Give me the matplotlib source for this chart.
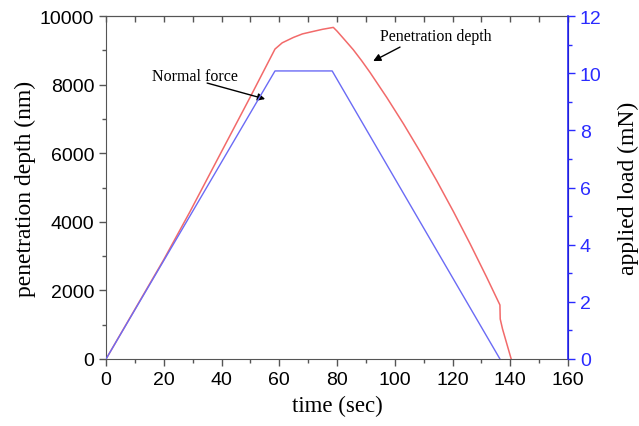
import matplotlib
matplotlib.use('Agg')
import matplotlib.pyplot as plt
from matplotlib.ticker import MultipleLocator, NullFormatter

# penetration depth (nm) vs time (sec)
t_depth = [0, 20, 29, 40, 50, 58.5, 61, 64.9, 68, 71.8, 75, 78.7,
           80, 82.5, 85.6, 88.5, 91.4, 97.2, 103, 108.7, 114.5, 120.3, 126.1, 131.8,
           136.4, 136.5, 137.3, 140.3]
depth = [0, 2900, 4286, 6050, 7650, 9038, 9220, 9378, 9480, 9554, 9615, 9670,
         9560, 9320, 9020, 8700, 8358, 7628, 6857, 6055, 5199, 4298, 3354, 2385,
         1574, 1166, 875, 0]

# applied load (mN) vs time (sec)
t_load = [0, 58.5, 78.3, 136.4]
load = [0, 10.08, 10.08, 0]

fig = plt.figure(figsize=(6.39, 4.27), dpi=100)
ax = fig.add_axes([0.166, 0.157, 0.723, 0.803])
ax2 = ax.twinx()

ax.plot(t_depth, depth, color='#f26a6a', lw=1.1)
ax2.plot(t_load, load, color='#6b6bf5', lw=1.0)

ax.set_xlim(0, 160)
ax.set_ylim(0, 10000)
ax2.set_ylim(0, 12)

ax.xaxis.set_major_locator(MultipleLocator(20))
ax.xaxis.set_minor_locator(MultipleLocator(10))
ax.yaxis.set_major_locator(MultipleLocator(2000))
ax.yaxis.set_minor_locator(MultipleLocator(1000))
ax2.yaxis.set_major_locator(MultipleLocator(2))
ax2.yaxis.set_minor_locator(MultipleLocator(1))

tickfont = 'Liberation Sans'
for lab in ax.get_xticklabels() + ax.get_yticklabels() + ax2.get_yticklabels():
    lab.set_fontfamily(tickfont)
ax.tick_params(axis='both', which='major', labelsize=14, length=5, width=1, color='#555555')
ax.tick_params(axis='both', which='minor', length=3, width=1, color='#555555')
ax2.tick_params(axis='y', which='major', labelsize=14, length=5, width=1, colors='#2b2bff')
ax2.tick_params(axis='y', which='minor', length=3, width=1, color='#2b2bff')

for s in ['left', 'bottom', 'top']:
    ax.spines[s].set_color('#555555')
ax2.spines['right'].set_color('#2b2bff')
ax2.spines['right'].set_linewidth(1.2)
for s in ['left', 'bottom', 'top']:
    ax2.spines[s].set_visible(False)

# top ticks point inward, no labels
top = ax.secondary_xaxis('top')
top.xaxis.set_major_locator(MultipleLocator(10))
top.xaxis.set_major_formatter(NullFormatter())
top.tick_params(direction='in', length=4, width=1, color='#555555')
top.spines['top'].set_color('#555555')

serif = 'Liberation Serif'
ax.set_xlabel('time (sec)', fontfamily=serif, fontsize=16.5, labelpad=5)
ax.set_ylabel('penetration depth (nm)', fontfamily=serif, fontsize=17, labelpad=3)
ax2.set_ylabel('applied load (mN)', fontfamily=serif, fontsize=17, labelpad=12)

ax.text(30.8, 8250, 'Normal force', fontfamily=serif, fontsize=11.5, ha='center', va='center')
ax.annotate('', xy=(55.1, 7580), xytext=(35, 8047),
            arrowprops=dict(arrowstyle='-|>', color='black', lw=1, mutation_scale=11, shrinkA=0, shrinkB=0))
ax.text(114.1, 9417, 'Penetration depth', fontfamily=serif, fontsize=11.5, ha='center', va='center')
ax.annotate('', xy=(92.5, 8688), xytext=(101.8, 9096),
            arrowprops=dict(arrowstyle='-|>', color='black', lw=1, mutation_scale=11, shrinkA=0, shrinkB=0))

fig.savefig('out.png', dpi=100)
